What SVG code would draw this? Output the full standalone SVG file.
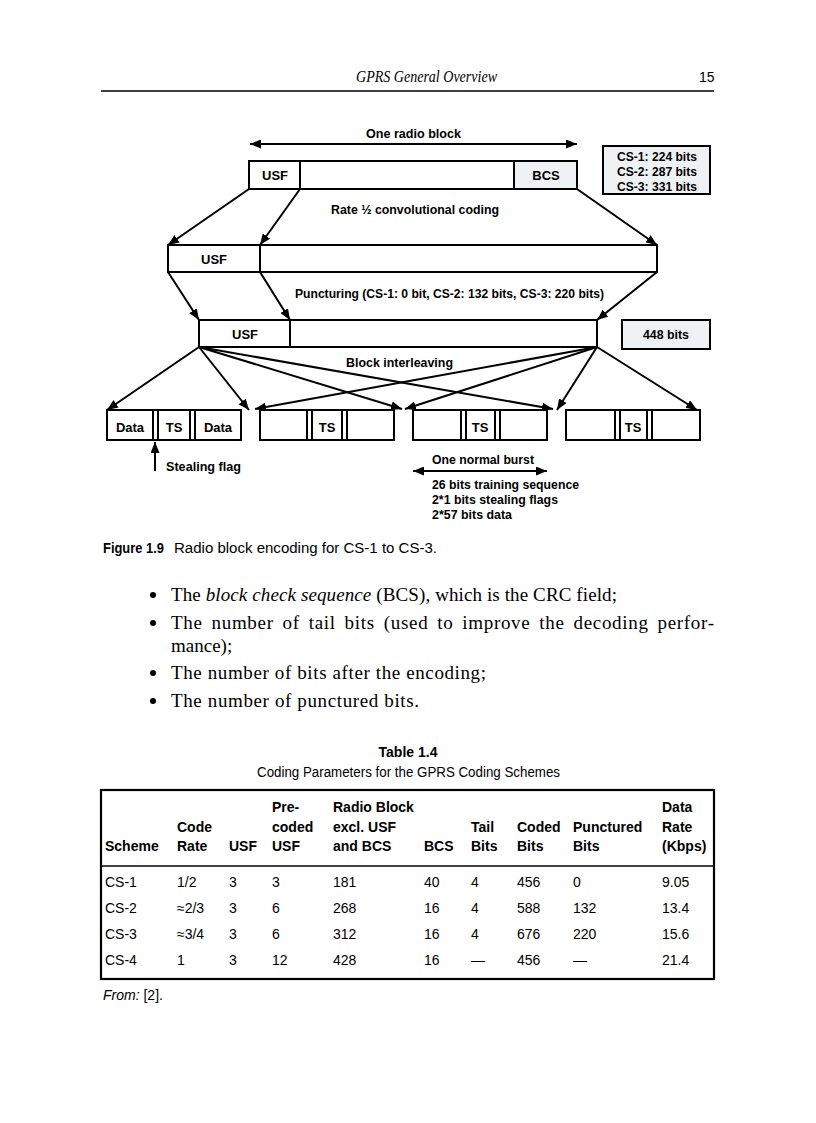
<svg xmlns="http://www.w3.org/2000/svg" width="816" height="1123" viewBox="0 0 816 1123">
<style>
  .bg{fill:#ffffff}
  .box{fill:#ffffff;stroke:#000;stroke-width:2}
  .tint{fill:#eef2f4;stroke:#000;stroke-width:2}
  .div{stroke:#000;stroke-width:2}
  .con{stroke:#000;stroke-width:2;fill:none}
  .dl{font-family:"Liberation Sans","DejaVu Sans",sans-serif;font-weight:bold;font-size:13px;fill:#000}
  .mid{text-anchor:middle}
  .serif{font-family:"Liberation Serif","DejaVu Serif",serif;font-size:19px;fill:#000}
  .hdr{font-family:"Liberation Serif","DejaVu Serif",serif;font-style:italic;font-size:16px;fill:#000}
  .cap{font-family:"Liberation Sans","DejaVu Sans",sans-serif;font-size:14px;fill:#000}
  .capb{font-family:"Liberation Sans","DejaVu Sans",sans-serif;font-size:14px;font-weight:bold;fill:#000}
  .th{font-family:"Liberation Sans","DejaVu Sans",sans-serif;font-size:14px;font-weight:bold;fill:#000}
  .td{font-family:"Liberation Sans","DejaVu Sans",sans-serif;font-size:14px;fill:#000}
</style>
<defs>
  <marker id="ah" markerUnits="userSpaceOnUse" markerWidth="11" markerHeight="9" refX="11" refY="4.5" orient="auto-start-reverse">
    <path d="M0,0 L11,4.5 L0,9 z" fill="#000"/>
  </marker>
</defs>
<rect class="bg" x="0" y="0" width="816" height="1123"/>

<!-- page header -->
<g id="page-header">
  <text class="hdr" x="356" y="82" textLength="141" lengthAdjust="spacingAndGlyphs">GPRS General Overview</text>
  <text class="cap" x="699" y="82" font-size="15">15</text>
  <line x1="101" y1="91" x2="714" y2="91" stroke="#000" stroke-width="1.6"/>
</g>

<!-- connectors -->
<g id="connectors">
  <line class="con" x1="250" y1="144" x2="577" y2="144" marker-start="url(#ah)" marker-end="url(#ah)"/>
  <line class="con" x1="249" y1="189" x2="168" y2="245" marker-end="url(#ah)"/>
  <line class="con" x1="300" y1="189" x2="260" y2="245" marker-end="url(#ah)"/>
  <line class="con" x1="577" y1="189" x2="657" y2="245" marker-end="url(#ah)"/>
  <line class="con" x1="168" y1="272" x2="199" y2="320" marker-end="url(#ah)"/>
  <line class="con" x1="260" y1="272" x2="290" y2="320" marker-end="url(#ah)"/>
  <line class="con" x1="657" y1="272" x2="597" y2="320" marker-end="url(#ah)"/>
  <line class="con" x1="199" y1="347" x2="107" y2="410" marker-end="url(#ah)"/>
  <line class="con" x1="199" y1="347" x2="249" y2="410" marker-end="url(#ah)"/>
  <line class="con" x1="199" y1="347" x2="402" y2="409" marker-end="url(#ah)"/>
  <line class="con" x1="199" y1="347" x2="553" y2="409" marker-end="url(#ah)"/>
  <line class="con" x1="597" y1="347" x2="255" y2="409" marker-end="url(#ah)"/>
  <line class="con" x1="597" y1="347" x2="405" y2="409" marker-end="url(#ah)"/>
  <line class="con" x1="597" y1="347" x2="557" y2="410" marker-end="url(#ah)"/>
  <line class="con" x1="597" y1="347" x2="697" y2="410" marker-end="url(#ah)"/>
  <line class="con" x1="155" y1="471" x2="155" y2="442" marker-end="url(#ah)"/>
  <line class="con" x1="413" y1="471" x2="547" y2="471" marker-start="url(#ah)" marker-end="url(#ah)"/>
</g>

<!-- diagram labels -->
<g id="labels">
  <text class="dl" x="366" y="138" textLength="95" lengthAdjust="spacingAndGlyphs">One radio block</text>
  <text class="dl" x="331" y="214" textLength="168" lengthAdjust="spacingAndGlyphs">Rate ½ convolutional coding</text>
  <text class="dl" x="295" y="298" textLength="309" lengthAdjust="spacingAndGlyphs">Puncturing (CS-1: 0 bit, CS-2: 132 bits, CS-3: 220 bits)</text>
  <text class="dl" x="346" y="367" textLength="107" lengthAdjust="spacingAndGlyphs">Block interleaving</text>
  <text class="dl" x="166" y="471" textLength="75" lengthAdjust="spacingAndGlyphs">Stealing flag</text>
  <text class="dl" x="432" y="464" textLength="102" lengthAdjust="spacingAndGlyphs">One normal burst</text>
  <text class="dl" x="432" y="489" textLength="147" lengthAdjust="spacingAndGlyphs">26 bits training sequence</text>
  <text class="dl" x="432" y="504" textLength="126" lengthAdjust="spacingAndGlyphs">2*1 bits stealing flags</text>
  <text class="dl" x="432" y="519" textLength="80" lengthAdjust="spacingAndGlyphs">2*57 bits data</text>
</g>

<!-- radio block -->
<g id="radio-block">
  <rect class="box" x="249" y="161" width="328" height="28"/>
  <rect class="tint" x="514" y="161" width="63" height="28"/>
  <line class="div" x1="300" y1="161" x2="300" y2="189"/>
  <text class="dl mid" x="275" y="180">USF</text>
  <text class="dl mid" x="546" y="180">BCS</text>
</g>

<g id="cs-sizes">
  <rect class="tint" x="603" y="146" width="107" height="48"/>
  <text class="dl" x="617" y="161" textLength="80" lengthAdjust="spacingAndGlyphs">CS-1: 224 bits</text>
  <text class="dl" x="617" y="176" textLength="80" lengthAdjust="spacingAndGlyphs">CS-2: 287 bits</text>
  <text class="dl" x="617" y="191" textLength="80" lengthAdjust="spacingAndGlyphs">CS-3: 331 bits</text>
</g>

<g id="coded-block">
  <rect class="box" x="168" y="245" width="489" height="27"/>
  <line class="div" x1="260" y1="245" x2="260" y2="272"/>
  <text class="dl mid" x="214" y="264">USF</text>
</g>

<g id="punctured-block">
  <rect class="box" x="199" y="320" width="398" height="27"/>
  <line class="div" x1="290" y1="320" x2="290" y2="347"/>
  <text class="dl mid" x="245" y="339">USF</text>
</g>

<g id="bits-448">
  <rect class="tint" x="622" y="320" width="88" height="29"/>
  <text class="dl mid" x="666" y="339" textLength="46" lengthAdjust="spacingAndGlyphs">448 bits</text>
</g>

<!-- bursts -->
<g id="burst-1">
  <rect class="box" x="107" y="410" width="134" height="30"/>
  <line class="div" x1="153" y1="410" x2="153" y2="440"/>
  <line class="div" x1="158" y1="410" x2="158" y2="440"/>
  <line class="div" x1="190" y1="410" x2="190" y2="440"/>
  <line class="div" x1="195" y1="410" x2="195" y2="440"/>
  <text class="dl mid" x="130" y="432">Data</text>
  <text class="dl mid" x="174" y="432">TS</text>
  <text class="dl mid" x="218" y="432">Data</text>
</g>
<g id="burst-2">
  <rect class="box" x="260" y="410" width="134" height="30"/>
  <line class="div" x1="307" y1="410" x2="307" y2="440"/>
  <line class="div" x1="312" y1="410" x2="312" y2="440"/>
  <line class="div" x1="342" y1="410" x2="342" y2="440"/>
  <line class="div" x1="347" y1="410" x2="347" y2="440"/>
  <text class="dl mid" x="327" y="432">TS</text>
</g>
<g id="burst-3">
  <rect class="box" x="413" y="410" width="134" height="30"/>
  <line class="div" x1="461" y1="410" x2="461" y2="440"/>
  <line class="div" x1="466" y1="410" x2="466" y2="440"/>
  <line class="div" x1="495" y1="410" x2="495" y2="440"/>
  <line class="div" x1="500" y1="410" x2="500" y2="440"/>
  <text class="dl mid" x="480" y="432">TS</text>
</g>
<g id="burst-4">
  <rect class="box" x="566" y="410" width="134" height="30"/>
  <line class="div" x1="615" y1="410" x2="615" y2="440"/>
  <line class="div" x1="620" y1="410" x2="620" y2="440"/>
  <line class="div" x1="647" y1="410" x2="647" y2="440"/>
  <line class="div" x1="652" y1="410" x2="652" y2="440"/>
  <text class="dl mid" x="633" y="432">TS</text>
</g>

<!-- caption -->
<g id="caption">
  <text class="capb" x="103" y="553" textLength="61" lengthAdjust="spacingAndGlyphs">Figure 1.9</text>
  <text class="cap" x="174" y="553" textLength="263" lengthAdjust="spacingAndGlyphs">Radio block encoding for CS-1 to CS-3.</text>
</g>

<!-- bullets -->
<g id="bullets">
  <circle cx="153" cy="595" r="3"/>
  <text class="serif" x="171" y="601" textLength="446">The <tspan font-style="italic">block check sequence</tspan> (BCS), which is the CRC field;</text>
  <circle cx="153" cy="623" r="3"/>
  <text class="serif" x="171" y="629" word-spacing="3.5" textLength="543">The number of tail bits (used to improve the decoding perfor-</text>
  <text class="serif" x="171" y="652">mance);</text>
  <circle cx="153" cy="673" r="3"/>
  <text class="serif" x="171" y="679" textLength="315">The number of bits after the encoding;</text>
  <circle cx="153" cy="701" r="3"/>
  <text class="serif" x="171" y="707" textLength="248">The number of punctured bits.</text>
</g>

<!-- table -->
<g id="table-title">
  <text class="capb mid" x="408" y="757">Table 1.4</text>
  <text class="cap" x="257" y="777" textLength="303" lengthAdjust="spacingAndGlyphs">Coding Parameters for the GPRS Coding Schemes</text>
</g>
<g id="table">
  <rect x="101" y="790" width="613" height="189" fill="none" stroke="#000" stroke-width="2.2"/>
  <line x1="101" y1="866" x2="714" y2="866" stroke="#000" stroke-width="1.6"/>
  <text class="th" x="272" y="812">Pre-</text>
  <text class="th" x="333" y="812">Radio Block</text>
  <text class="th" x="662" y="812">Data</text>
  <text class="th" x="177" y="832">Code</text>
  <text class="th" x="272" y="832">coded</text>
  <text class="th" x="333" y="832">excl. USF</text>
  <text class="th" x="471" y="832">Tail</text>
  <text class="th" x="517" y="832">Coded</text>
  <text class="th" x="573" y="832">Punctured</text>
  <text class="th" x="662" y="832">Rate</text>
  <text class="th" x="105" y="851">Scheme</text>
  <text class="th" x="177" y="851">Rate</text>
  <text class="th" x="229" y="851">USF</text>
  <text class="th" x="272" y="851">USF</text>
  <text class="th" x="333" y="851">and BCS</text>
  <text class="th" x="424" y="851">BCS</text>
  <text class="th" x="471" y="851">Bits</text>
  <text class="th" x="517" y="851">Bits</text>
  <text class="th" x="573" y="851">Bits</text>
  <text class="th" x="662" y="851">(Kbps)</text>

  <text class="td" x="105" y="887">CS-1</text><text class="td" x="177" y="887">1/2</text><text class="td" x="229" y="887">3</text><text class="td" x="272" y="887">3</text><text class="td" x="333" y="887">181</text><text class="td" x="424" y="887">40</text><text class="td" x="471" y="887">4</text><text class="td" x="517" y="887">456</text><text class="td" x="573" y="887">0</text><text class="td" x="662" y="887">9.05</text>
  <text class="td" x="105" y="913">CS-2</text><text class="td" x="177" y="913">≈2/3</text><text class="td" x="229" y="913">3</text><text class="td" x="272" y="913">6</text><text class="td" x="333" y="913">268</text><text class="td" x="424" y="913">16</text><text class="td" x="471" y="913">4</text><text class="td" x="517" y="913">588</text><text class="td" x="573" y="913">132</text><text class="td" x="662" y="913">13.4</text>
  <text class="td" x="105" y="939">CS-3</text><text class="td" x="177" y="939">≈3/4</text><text class="td" x="229" y="939">3</text><text class="td" x="272" y="939">6</text><text class="td" x="333" y="939">312</text><text class="td" x="424" y="939">16</text><text class="td" x="471" y="939">4</text><text class="td" x="517" y="939">676</text><text class="td" x="573" y="939">220</text><text class="td" x="662" y="939">15.6</text>
  <text class="td" x="105" y="965">CS-4</text><text class="td" x="177" y="965">1</text><text class="td" x="229" y="965">3</text><text class="td" x="272" y="965">12</text><text class="td" x="333" y="965">428</text><text class="td" x="424" y="965">16</text><text class="td" x="471" y="965">—</text><text class="td" x="517" y="965">456</text><text class="td" x="573" y="965">—</text><text class="td" x="662" y="965">21.4</text>
</g>
<g id="source">
  <text class="cap" x="103" y="1000" font-size="13"><tspan font-style="italic">From:</tspan> [2].</text>
</g>
</svg>
